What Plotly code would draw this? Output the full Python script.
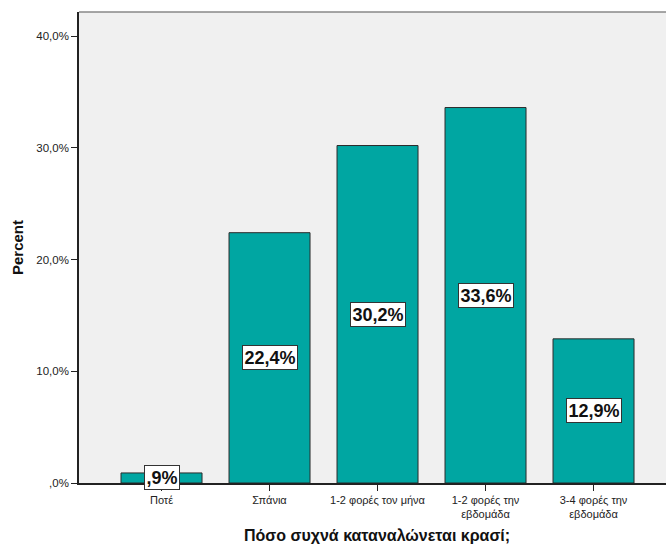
import plotly.graph_objects as go

categories = ["Ποτέ", "Σπάνια", "1-2 φορές τον μήνα", "1-2 φορές την<br>εβδομάδα", "3-4 φορές την<br>εβδομάδα"]
percents = [0.9, 22.4, 30.2, 33.6, 12.9]
bar_labels = [",9%", "22,4%", "30,2%", "33,6%", "12,9%"]
ytick_vals = [0, 10, 20, 30, 40]
ytick_text = [",0%", "10,0%", "20,0%", "30,0%", "40,0%"]

xs = list(range(len(categories)))

fig = go.Figure()
fig.add_trace(go.Bar(
    x=xs, y=percents, width=0.75,
    marker=dict(color="#00A6A2", line=dict(color="#2b2b2b", width=1)),
    hoverinfo="skip",
))

for x, v, t in zip(xs, percents, bar_labels):
    fig.add_annotation(
        x=x, y=v / 2, text=t, showarrow=False,
        font=dict(family="Arial, Liberation Sans", size=18, color="#111", weight=600),
        bgcolor="white", bordercolor="#333", borderwidth=1, borderpad=1.5,
    )

fig.add_annotation(
    xref="paper", yref="paper", x=0.5085, y=-0.1125, yanchor="middle",
    text="<b>Πόσο συχνά καταναλώνεται κρασί;</b>", showarrow=False,
    font=dict(family="Arial, Liberation Sans", size=16, color="#111"),
)

# top frame line
fig.add_shape(type="line", xref="paper", yref="paper", x0=0, x1=1, y0=1, y1=1,
              line=dict(color="#888", width=1.5))

fig.update_layout(
    width=666, height=544,
    margin=dict(l=79, r=0, t=12, b=61),
    paper_bgcolor="white", plot_bgcolor="#F0F0F0",
    showlegend=False,
    font=dict(family="Arial, Liberation Sans", color="#222"),
    xaxis=dict(
        range=[-0.764, 4.671], tickvals=xs, ticktext=categories,
        ticks="outside", ticklen=6, tickcolor="#222", tickwidth=1,
        showline=True, linecolor="#222", linewidth=1.5,
        showgrid=False, zeroline=False,
        tickfont=dict(size=11, color="#222"),
    ),
    yaxis=dict(
        range=[0, 42.15], tickvals=ytick_vals, ticktext=ytick_text,
        ticks="outside", ticklen=6, tickcolor="#222", tickwidth=1,
        showline=True, linecolor="#222", linewidth=1.5,
        showgrid=False, zeroline=False,
        tickfont=dict(size=11.5, color="#222"),
        title=dict(text="<b>Percent</b>", font=dict(size=15, color="#111"), standoff=9),
    ),
)

fig.write_html("out.html")
